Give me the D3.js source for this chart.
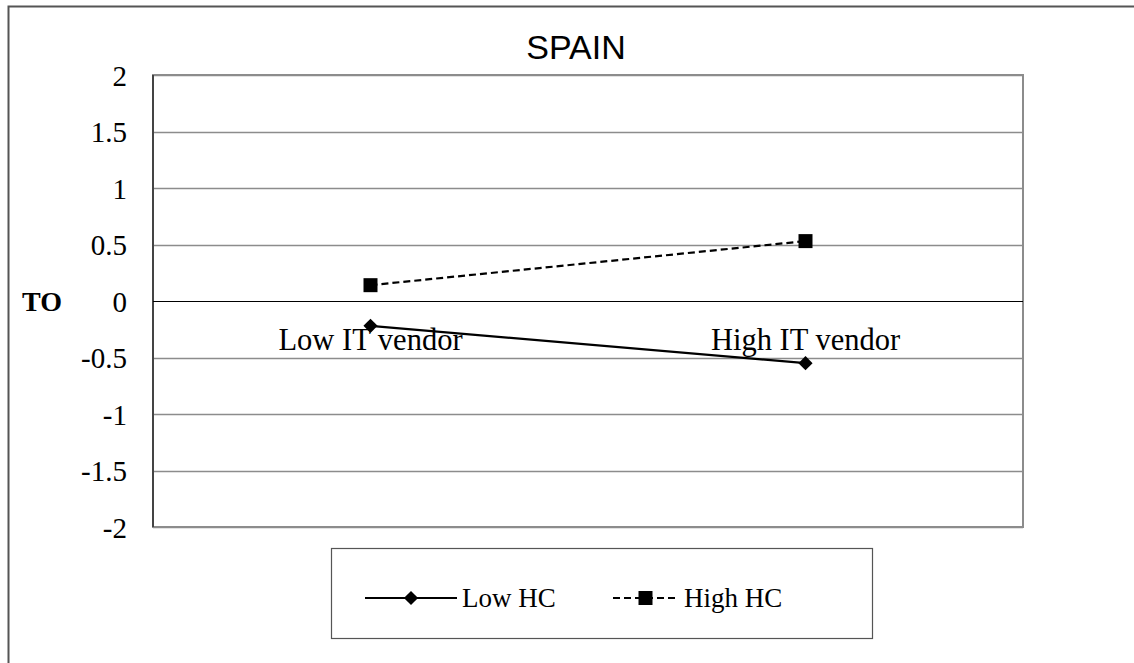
<!DOCTYPE html>
<html>
<head>
<meta charset="utf-8">
<script src="https://cdn.jsdelivr.net/npm/d3@7"></script>
<style>
  body { margin: 0; background: #fff; }
  svg { display: block; }
</style>
</head>
<body>
<svg id="chart" width="1134" height="663"></svg>
<script>
// chart data
const categories = ['Low IT vendor', 'High IT vendor'];
const seriesNames = ['Low HC', 'High HC'];
const lowHC = [-0.22, -0.55];
const highHC = [0.14, 0.53];
const yTicks = [-2, -1.5, -1, -0.5, 0, 0.5, 1, 1.5, 2];

(function () {
    const svg = d3.select('#chart');
    const plot = { left: 153, top: 75, right: 1023, bottom: 527 };
    const serif = '"Liberation Serif", "Times New Roman", serif';

    // outer frame (runs off the right and bottom edge)
    svg.append('path')
        .attr('d', 'M8.5,700 V6.5 H1200')
        .attr('fill', 'none')
        .attr('stroke', '#555')
        .attr('stroke-width', 2);

    const x = d3.scaleBand()
        .domain(categories)
        .range([plot.left, plot.right]);

    const y = d3.scaleLinear()
        .domain([-2, 2])
        .range([plot.bottom, plot.top]);

    // gridlines
    svg.append('g')
        .selectAll('line')
        .data(yTicks.filter(d => d !== 0))
        .enter()
        .append('line')
        .attr('x1', plot.left)
        .attr('x2', plot.right)
        .attr('y1', d => Math.round(y(d)) + 0.5)
        .attr('y2', d => Math.round(y(d)) + 0.5)
        .attr('stroke', '#8c8c8c')
        .attr('stroke-width', 1.5);

    // plot area border
    svg.append('rect')
        .attr('x', plot.left)
        .attr('y', plot.top)
        .attr('width', plot.right - plot.left)
        .attr('height', plot.bottom - plot.top)
        .attr('fill', 'none')
        .attr('stroke', '#8c8c8c')
        .attr('stroke-width', 2);

    // y axis line
    svg.append('line')
        .attr('x1', plot.left).attr('x2', plot.left)
        .attr('y1', plot.top).attr('y2', plot.bottom)
        .attr('stroke', '#444')
        .attr('stroke-width', 2);

    // zero line
    svg.append('line')
        .attr('x1', plot.left).attr('x2', plot.right)
        .attr('y1', Math.round(y(0)) + 0.5).attr('y2', Math.round(y(0)) + 0.5)
        .attr('stroke', '#000')
        .attr('stroke-width', 1.2);

    // y tick labels
    const yAxis = d3.axisLeft(y)
        .tickValues(yTicks)
        .tickSize(0)
        .tickPadding(0)
        .tickFormat(d => d);

    const gy = svg.append('g')
        .attr('transform', 'translate(127,0)')
        .call(yAxis);
    gy.select('.domain').remove();
    gy.selectAll('text')
        .attr('font-family', serif)
        .attr('font-size', 29)
        .attr('fill', '#000')
        .attr('dy', '0.35em');

    // y title
    svg.append('text')
        .attr('x', 42)
        .attr('y', y(0))
        .attr('dy', '0.35em')
        .attr('text-anchor', 'middle')
        .attr('font-family', serif)
        .attr('font-weight', 'bold')
        .attr('font-size', 28)
        .text('TO');

    // category labels sit just below the zero line
    svg.append('g')
        .selectAll('text')
        .data(categories)
        .enter()
        .append('text')
        .attr('x', d => x(d) + x.bandwidth() / 2)
        .attr('y', 350)
        .attr('text-anchor', 'middle')
        .attr('font-family', serif)
        .attr('font-size', 30.5)
        .text(d => d);

    // title
    svg.append('text')
        .attr('x', 576)
        .attr('y', 59)
        .attr('text-anchor', 'middle')
        .attr('font-family', '"Liberation Sans", Arial, sans-serif')
        .attr('font-size', 34)
        .text('SPAIN');

    const series = [
        { name: seriesNames[0], values: lowHC, dash: null, symbol: 'diamond' },
        { name: seriesNames[1], values: highHC, dash: '7,4', symbol: 'square' }
    ];

    // diamond = square turned 45 degrees
    const marker = s => d3.symbol().type(d3.symbolSquare).size(s.symbol === 'square' ? 196 : 100)();
    const markerRot = s => s.symbol === 'square' ? '' : ' rotate(45)';

    const line = d3.line()
        .x((d, i) => x(categories[i]) + x.bandwidth() / 2)
        .y(d => y(d));

    series.forEach(s => {
        svg.append('path')
            .attr('d', line(s.values))
            .attr('fill', 'none')
            .attr('stroke', '#000')
            .attr('stroke-width', 2.2)
            .attr('stroke-dasharray', s.dash);

        svg.append('g')
            .selectAll('path')
            .data(s.values)
            .enter()
            .append('path')
            .attr('d', marker(s))
            .attr('transform', (d, i) => 'translate(' + (x(categories[i]) + x.bandwidth() / 2) + ',' + y(d) + ')' + markerRot(s))
            .attr('fill', '#000');
    });

    // legend
    const legend = svg.append('g');
    legend.append('rect')
        .attr('x', 331.5)
        .attr('y', 548.5)
        .attr('width', 541)
        .attr('height', 90)
        .attr('fill', '#fff')
        .attr('stroke', '#555')
        .attr('stroke-width', 1.2);

    const legendItems = [
        { s: series[0], x0: 365, x1: 457, tx: 462 },
        { s: series[1], x0: 613, x1: 678, tx: 684 }
    ];
    legendItems.forEach(it => {
        const ly = 598;
        legend.append('line')
            .attr('x1', it.x0).attr('x2', it.x1)
            .attr('y1', ly).attr('y2', ly)
            .attr('stroke', '#000')
            .attr('stroke-width', 2.2)
            .attr('stroke-dasharray', it.s.dash);
        legend.append('path')
            .attr('d', marker(it.s))
            .attr('transform', 'translate(' + ((it.x0 + it.x1) / 2) + ',' + ly + ')' + markerRot(it.s))
            .attr('fill', '#000');
        legend.append('text')
            .attr('x', it.tx)
            .attr('y', 607)
            .attr('font-family', serif)
            .attr('font-size', 27)
            .text(it.s.name);
    });
}());
</script>
</body>
</html>
